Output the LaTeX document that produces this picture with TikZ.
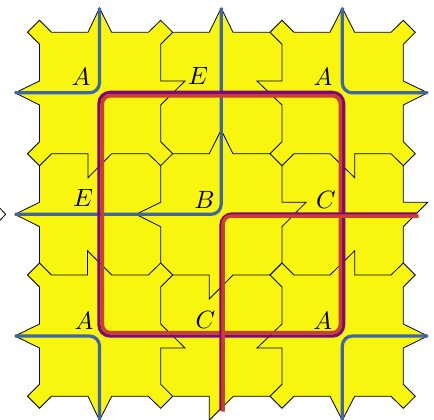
\documentclass[tikz,border=0pt]{standalone}
\definecolor{tileyellow}{HTML}{F8F50E}
\definecolor{cornerblue}{HTML}{3F66A6}
\definecolor{loopred}{HTML}{C9402E}
\definecolor{looppurple}{HTML}{80067E}
\tikzset{
    tileline/.style={black, line width=0.8pt, line join=miter},
    bluepath/.style={cornerblue, line width=3.2pt, rounded corners=10pt},
    purplepath/.style={looppurple, line width=3.3pt, rounded corners=11pt},
    redpath/.style={loopred, line width=3.5pt, rounded corners=8pt},
    tilelabel/.style={scale=2.5, inner sep=0pt}
}
\begin{document}
\begin{tikzpicture}[x=1pt,y=-1pt]
        \useasboundingbox (0,0) rectangle (434,420);
        \clip (0,0) rectangle (434,420);

        % Coordinates
        \coordinate (TL) at (15,92.8);
        \coordinate (TT) at (99.5,8);
        \coordinate (TC) at (99.5,92.8);
        \coordinate (MT) at (221.2,8);
        \coordinate (MC) at (221.2,214.3);
        \coordinate (ML) at (15,214.3);
        \coordinate (RT) at (342.3,8);
        \coordinate (RC) at (342.3,92.8);
        \coordinate (RR) at (427.7,92.8);
        \coordinate (BL) at (15,336);
        \coordinate (BC) at (99.5,336);
        \coordinate (BB) at (99.5,420.2);
        \coordinate (DR) at (427.7,336);
        \coordinate (DC) at (342.3,336);
        \coordinate (DB) at (342.3,420.2);

        % Tile outline
        \draw[tileline, fill=tileyellow] (39.5,44.3) -- (27.5,32.3) -- (39.5,20.3) -- (51.5,32.3)
            -- (88,32.3) -- (TT) -- (111.7,32.3) -- (148.3,32.3) -- (160.7,20.3) -- (172.7,32.3)
            -- (209.3,32.3) -- (MT) -- (233,32.3) -- (270,32.3) -- (282,20.3) -- (294,32.3)
            -- (330,32.3) -- (RT) -- (354.7,32.3) -- (391,32.3) -- (403.3,20.3) -- (415.3,32.3) -- (403.3,44.3)
            -- (403.3,81) -- (RR) -- (403.3,105) -- (403.3,141.7) -- (415.3,153.7) -- (403.3,165.7)
            -- (403.3,202.3) -- (427.7,202.3) -- (403.3,226.7) -- (403.3,263) -- (415.3,275) -- (403.3,287)
            -- (403.3,324) -- (DR) -- (403.3,348) -- (403.3,384.3) -- (415.3,396.3) -- (403.3,408.3) -- (391,396.3)
            -- (354.7,396.3) -- (DB) -- (330,396.3) -- (294,396.3) -- (282,408.3) -- (270,396.3)
            -- (233.3,396.3) -- (209.3,420.2) -- (209.3,396.3) -- (172.7,396.3) -- (160.7,408.3) -- (148.3,396.3)
            -- (111.7,396.3) -- (BB) -- (88,396.3) -- (51.5,396.3) -- (39.5,408.3) -- (27.5,396.3) -- (39.5,384.3)
            -- (39.5,348) -- (BL) -- (39.5,324) -- (39.5,287) -- (27.5,275) -- (39.5,263)
            -- (39.5,226.7) -- (ML) -- (39.5,202.3) -- (39.5,165.7) -- (27.5,153.7) -- (39.5,141.7)
            -- (39.5,105) -- (TL) -- (39.5,81) -- cycle;

        % Inner edges
        \draw[tileline] (172.7,32.3) -- (160.7,44.3) -- (160.7,81) -- (185,81) -- (160.7,105) -- (160.7,141.7)
            -- (172.7,153.7) -- (160.7,165.7) -- (160.7,202.3) -- (136,214.3) -- (160.7,226.7) -- (160.7,263)
            -- (172.7,275) -- (160.7,287) -- (160.7,324) -- (185,348) -- (160.7,348) -- (160.7,384.3) -- (172.7,396.3);
        \draw[tileline] (270,32.3) -- (282,44.3) -- (282,81) -- (257,81) -- (282,105) -- (282,141.7)
            -- (270,153.7) -- (282,165.7) -- (282,202.3) -- (306,202.3) -- (282,226.7) -- (282,263)
            -- (270,275) -- (282,287) -- (282,324) -- (257,348) -- (282,348) -- (282,384.3) -- (270,396.3);
        \draw[tileline] (39.5,165.7) -- (51.5,153.7) -- (88,153.7) -- (88,177.7) -- (111.7,153.7) -- (148.3,153.7)
            -- (160.7,165.7);
        \draw[tileline] (172.7,153.7) -- (209.3,153.7) -- (221.2,130) -- (233,153.7) -- (270,153.7);
        \draw[tileline] (282,165.7) -- (294,153.7) -- (330,153.7) -- (354.7,177.7) -- (354.7,153.7) -- (391,153.7)
            -- (403.3,165.7);
        \draw[tileline] (39.5,263) -- (51.5,275) -- (87.5,275) -- (87.5,250.7) -- (111.7,275) -- (148.3,275)
            -- (160.7,263);
        \draw[tileline] (172.7,275) -- (209.3,275) -- (209.3,299) -- (233,275) -- (270,275) -- (282,263);
        \draw[tileline] (282,263) -- (294,275) -- (330,275) -- (354.7,250.7) -- (354.7,275) -- (391,275)
            -- (403.3,263);
        \draw[tileline] (0,208.3) -- (5.7,214.3) -- (0,220.3);

        % Drawing
        \draw[bluepath] (TL) -- (TC) -- (TT);
        \draw[bluepath] (ML) -- (MC) -- (MT);
        \draw[bluepath] (RT) -- (RC) -- (RR);
        \draw[bluepath] (BL) -- (BC) -- (BB);
        \draw[bluepath] (DR) -- (DC) -- (DB);

        \draw[purplepath] (99,92.4) rectangle (343.6,336);
        \draw[redpath] (102.4,95.8) rectangle (340.3,332.7);
        \draw[purplepath] (417,214) -- (221,214) -- (221,410.5);
        \draw[redpath] (418.5,216) -- (223.2,216) -- (223.2,411.7);

        % Labels
        \node[tilelabel] (labelTL) at (81,77) {$A$};
        \node[tilelabel] (labelTE) at (198,76) {$E$};
        \node[tilelabel] (labelTR) at (323,77) {$A$};
        \node[tilelabel] (labelME) at (83,198) {$E$};
        \node[tilelabel] (labelMB) at (204.5,199.5) {$B$};
        \node[tilelabel] (labelMC) at (326,199.5) {$C$};
        \node[tilelabel] (labelBL) at (84,320.5) {$A$};
        \node[tilelabel] (labelBC) at (205.5,320) {$C$};
        \node[tilelabel] (labelBR) at (322.7,320.5) {$A$};
    \end{tikzpicture}
\end{document}
